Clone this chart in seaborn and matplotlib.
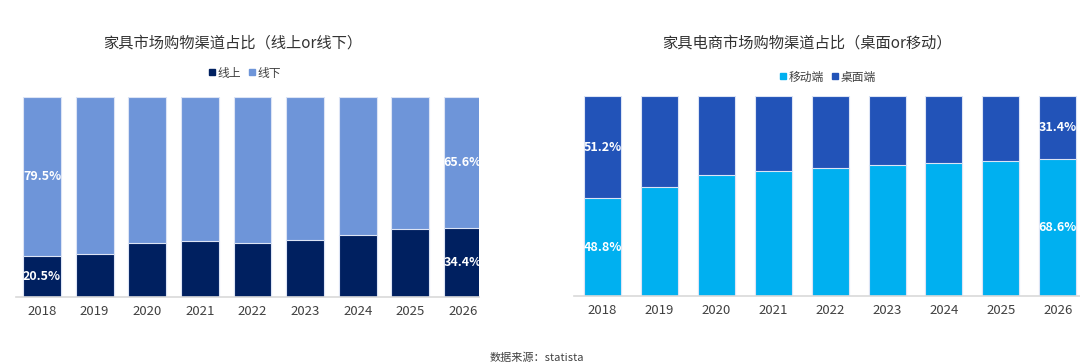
import numpy as np
import pandas as pd
import seaborn as sns
import matplotlib.pyplot as plt
from matplotlib.lines import Line2D

sns.set_style("white")
plt.rcParams['font.family'] = ['Noto Sans CJK SC', 'DejaVu Sans']

years = ['2018', '2019', '2020', '2021', '2022', '2023', '2024', '2025', '2026']
# left chart: online / offline share (%)
online = [20.5, 21.7, 26.8, 28.2, 27.2, 28.5, 31.2, 34.0, 34.4]
offline = [79.5, 78.3, 73.2, 71.8, 72.8, 71.5, 68.8, 66.0, 65.6]
# right chart: mobile / desktop share (%)
mobile = [48.8, 54.5, 60.3, 62.5, 64.0, 65.3, 66.7, 67.7, 68.6]
desktop = [51.2, 45.5, 39.7, 37.5, 36.0, 34.7, 33.3, 32.3, 31.4]

c_online, c_offline = '#002060', '#6E95D9'
c_mobile, c_desktop = '#00B0F0', '#2253B8'
txt = '#404040'

fig = plt.figure(figsize=(10.8, 3.62), dpi=100)
ax1 = fig.add_axes([15.7 / 1080, 65 / 362, 463 / 1080, 200 / 362])
ax2 = fig.add_axes([574 / 1080, 66 / 362, 506 / 1080, 200 / 362])


def stacked(ax, low, high, c_low, c_high, width, xmax):
    df = pd.DataFrame({'year': years, 'low': low,
                       'total': np.array(low) + np.array(high)})
    sns.barplot(data=df, x='year', y='total', color=c_high, width=width,
                saturation=1, edgecolor='#DCE4F5', linewidth=0.8, ax=ax)
    sns.barplot(data=df, x='year', y='low', color=c_low, width=width,
                saturation=1, edgecolor='#DCE4F5', linewidth=0.8, ax=ax)
    ax.set_ylim(0, 100)
    ax.set_xlim(-0.5, xmax)
    ax.set_xlabel('')
    ax.set_ylabel('')
    ax.set_yticks([])
    for s in ['top', 'left', 'right']:
        ax.spines[s].set_visible(False)
    ax.spines['bottom'].set_color('#D9D9D9')
    ax.spines['bottom'].set_linewidth(1.2)
    ax.tick_params(axis='x', length=0, pad=6, labelsize=9.5, labelcolor=txt)
    for i in [0, len(years) - 1]:
        ax.text(i, low[i] / 2, f'{low[i]:.1f}%', ha='center', va='center',
                color='white', fontsize=9, fontweight='bold')
        ax.text(i, low[i] + high[i] / 2, f'{high[i]:.1f}%', ha='center',
                va='center', color='white', fontsize=9, fontweight='bold')


stacked(ax1, online, offline, c_online, c_offline, 0.72, 8.3)
stacked(ax2, mobile, desktop, c_mobile, c_desktop, 0.65, 8.39)

fig.text(233 / 1080, 1 - 43 / 362, '家具市场购物渠道占比（线上or线下）', ha='center',
         va='center', fontsize=11, color='#333333')
fig.text(807 / 1080, 1 - 43 / 362, '家具电商市场购物渠道占比（桌面or移动）',
         ha='center', va='center', fontsize=11, color='#333333')


def legend(x, y, labels, colors):
    handles = [Line2D([], [], marker='s', ls='', color=c, markersize=5)
               for c in colors]
    fig.legend(handles, labels, loc='center', bbox_to_anchor=(x, y), ncol=2,
               frameon=False, fontsize=8.5, handletextpad=0.1, columnspacing=0.5,
               handlelength=0.8, labelcolor=txt)


legend(244 / 1080, 1 - 73 / 362, ['线上', '线下'], [c_online, c_offline])
legend(827 / 1080, 1 - 77 / 362, ['移动端', '桌面端'], [c_mobile, c_desktop])

fig.text(537 / 1080, 1 - 358 / 362, '数据来源：statista', ha='center', va='center',
         fontsize=8, color=txt)

fig.savefig('out.png', dpi=100)
